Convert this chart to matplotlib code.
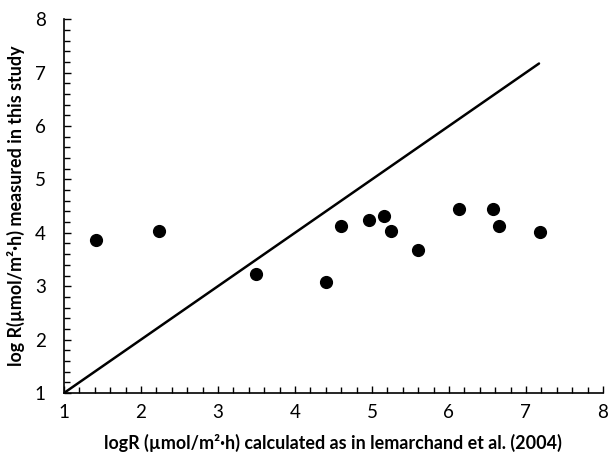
import matplotlib
matplotlib.use("Agg")
import matplotlib.pyplot as plt
from matplotlib.ticker import MultipleLocator

calc_logR = [1.42, 2.24, 3.49, 4.40, 4.60, 4.96, 5.16, 5.25, 5.60, 6.13, 6.57, 6.65, 7.18]
meas_logR = [3.86, 4.04, 3.23, 3.08, 4.13, 4.24, 4.31, 4.03, 3.67, 4.45, 4.45, 4.13, 4.01]
line_x = [1.0, 7.17]
line_y = [1.0, 7.17]

plt.rcParams['font.family'] = ['Lato', 'DejaVu Sans']

fig = plt.figure(figsize=(6.09, 4.57), dpi=100)
ax = fig.add_axes([0.105, 0.140, 0.885, 0.818])

ax.plot(line_x, line_y, color='black', lw=1.8, solid_capstyle='round')
ax.scatter(calc_logR, meas_logR, s=72, color='black', zorder=3)

ax.set_xlim(1, 8)
ax.set_ylim(1, 8)
ax.xaxis.set_major_locator(MultipleLocator(1))
ax.yaxis.set_major_locator(MultipleLocator(1))
ax.xaxis.set_minor_locator(MultipleLocator(0.2))
ax.yaxis.set_minor_locator(MultipleLocator(0.2))

for s in ['top', 'right']:
    ax.spines[s].set_visible(False)
for s in ['left', 'bottom']:
    ax.spines[s].set_linewidth(1.2)

ax.tick_params(axis='both', which='major', direction='in', length=5, width=1, labelsize=13.5)
ax.tick_params(axis='both', which='minor', direction='in', length=4, width=1)
ax.tick_params(axis='x', which='major', pad=8)
ax.tick_params(axis='y', which='major', pad=13)

ax.set_xlabel('logR (µmol/m²·h) calculated as in lemarchand et al. (2004)',
              fontsize=12.9, fontweight='bold', labelpad=9)
ax.set_ylabel('log R(µmol/m²·h) measured in this study',
              fontsize=12.9, fontweight='bold', labelpad=7)

fig.savefig('out.png', dpi=100)
